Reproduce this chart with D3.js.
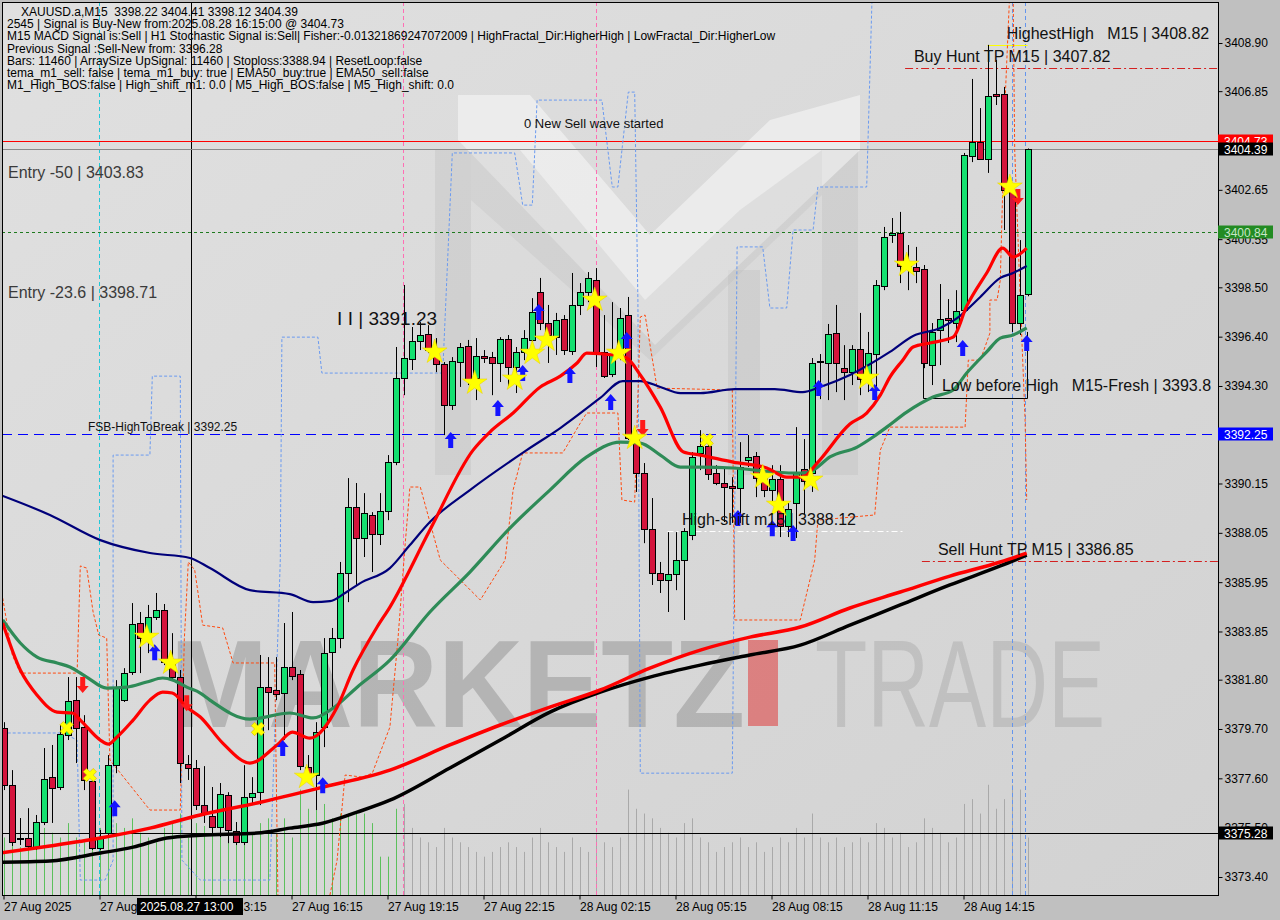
<!DOCTYPE html>
<html><head><meta charset="utf-8">
<script src="https://cdn.jsdelivr.net/npm/d3@7"></script>
<style>
html,body{margin:0;padding:0;background:#c0c0c0;}
svg{display:block;font-family:"Liberation Sans",Arial,sans-serif;}
</style></head><body>
<svg id="c" width="1280" height="920"></svg>
<script>
// ---------------- DATA ----------------
const opens = [3379.74,3377.31,3375.06,3375.06,3374.67,3375.74,3377.65,3377.23,3379.44,3380.93,
3379.78,3377.48,3374.63,3375.27,3378.16,3380.93,3382.12,3384.21,3383.78,3384.46,
3384.76,3382.55,3381.91,3378.21,3378.04,3376.46,3375.99,3375.52,3376.89,3375.35,
3374.89,3376.80,3377.01,3381.48,3381.36,3381.23,3382.34,3382.04,3378.08,3377.74,
3379.78,3382.97,3383.57,3386.34,3389.15,3387.83,3388.81,3388.00,3388.98,3391.06,
3394.64,3395.45,3396.21,3396.51,3395.58,3395.23,3393.49,3395.32,3396.00,3394.64,
3395.58,3395.53,3395.28,3396.30,3395.11,3395.75,3396.26,3398.30,3396.98,3396.38,
3397.15,3395.79,3397.75,3398.30,3398.81,3395.75,3394.81,3395.58,3397.32,3392.08,
3390.59,3388.21,3386.34,3386.04,3386.29,3386.89,3387.96,3391.45,3391.74,3390.59,
3390.17,3390.04,3389.96,3391.15,3391.32,3390.42,3389.87,3390.34,3388.34,3389.32,
3390.76,3390.59,3395.34,3395.28,3396.55,3395.06,3394.89,3395.87,3394.77,3395.66,
3398.56,3400.73,3400.81,3399.41,3399.36,3399.28,3395.19,3396.68,3397.19,3396.98,
3397.53,3404.09,3404.69,3403.96,3406.73,3406.73,3402.64,3396.98,3398.22];
const highs = [3379.99,3377.95,3375.91,3376.33,3376.04,3378.89,3379.02,3379.87,3381.91,3381.91,
3380.29,3377.95,3375.40,3378.59,3381.78,3382.29,3385.06,3384.68,3384.98,3385.49,
3385.02,3383.78,3382.21,3378.59,3378.38,3378.12,3377.23,3377.40,3377.01,3375.74,
3378.16,3377.65,3382.85,3382.76,3382.76,3384.21,3384.68,3382.21,3378.59,3379.99,
3383.57,3384.00,3386.81,3390.38,3390.17,3389.74,3388.93,3389.74,3391.36,3395.96,
3398.60,3396.81,3397.02,3396.89,3396.34,3395.32,3395.53,3396.13,3396.26,3396.34,
3395.83,3395.75,3396.38,3396.47,3395.96,3396.68,3398.04,3398.90,3397.75,3397.41,
3397.32,3399.11,3398.68,3399.15,3399.32,3397.32,3397.87,3397.62,3398.09,3392.42,
3391.02,3389.53,3386.81,3388.08,3388.08,3388.25,3391.49,3392.42,3392.13,3390.93,
3390.85,3390.42,3391.91,3392.21,3391.49,3390.72,3390.93,3390.93,3389.32,3392.55,
3392.04,3395.49,3395.66,3396.94,3397.75,3396.04,3396.04,3397.41,3396.60,3398.81,
3401.07,3401.45,3401.71,3400.30,3400.22,3399.45,3396.98,3398.64,3398.00,3398.38,
3404.22,3407.37,3406.13,3408.82,3408.18,3407.03,3402.85,3400.51,3404.41];
const lows = [3377.10,3374.72,3374.76,3374.63,3374.55,3375.61,3375.70,3377.10,3379.23,3378.25,
3377.10,3374.55,3374.55,3375.06,3377.82,3380.85,3382.00,3382.08,3382.93,3384.34,
3382.42,3381.78,3377.40,3377.53,3376.25,3375.70,3375.27,3375.10,3374.84,3374.76,
3374.76,3376.46,3376.46,3379.65,3380.93,3379.23,3381.78,3377.95,3377.53,3376.25,
3378.93,3380.63,3383.14,3385.10,3385.83,3387.02,3386.38,3387.53,3388.59,3390.93,
3393.91,3394.98,3395.83,3395.70,3394.89,3392.21,3393.28,3394.26,3394.34,3393.70,
3395.28,3393.91,3394.47,3394.26,3394.00,3395.40,3395.62,3396.68,3395.28,3395.62,
3395.62,3395.62,3397.32,3397.87,3395.11,3394.64,3394.68,3395.40,3392.00,3389.79,
3387.61,3385.83,3385.49,3384.68,3385.61,3384.34,3387.74,3390.72,3390.30,3390.08,
3388.51,3388.47,3388.47,3390.85,3389.57,3389.57,3389.32,3387.87,3387.87,3387.83,
3388.81,3389.79,3393.74,3393.70,3394.04,3393.70,3394.34,3393.91,3394.04,3394.21,
3398.38,3400.39,3398.68,3398.38,3398.68,3395.06,3394.34,3395.19,3396.13,3396.17,
3397.41,3403.83,3403.92,3403.37,3406.26,3400.94,3396.60,3396.47,3398.12];
const closes = [3377.31,3374.89,3375.04,3374.72,3375.74,3377.57,3377.19,3379.48,3380.89,3379.74,
3377.53,3374.63,3375.06,3378.16,3381.48,3382.08,3384.17,3383.57,3384.46,3384.76,
3382.55,3381.91,3378.25,3378.04,3376.46,3376.12,3375.52,3376.93,3375.40,3374.89,
3376.80,3376.97,3381.48,3381.27,3381.19,3382.34,3381.95,3378.12,3377.65,3379.57,
3382.93,3383.57,3386.34,3389.15,3387.83,3388.89,3388.00,3388.98,3391.06,3394.64,
3395.49,3396.21,3396.47,3395.83,3395.23,3393.49,3395.36,3395.96,3394.60,3395.58,
3395.51,3395.28,3396.30,3395.11,3395.75,3396.34,3397.45,3396.98,3396.47,3397.11,
3395.83,3397.75,3398.30,3398.90,3395.75,3394.72,3395.62,3397.19,3392.08,3390.59,
3388.21,3386.34,3386.04,3386.29,3386.89,3388.13,3391.28,3391.74,3390.55,3390.17,
3390.00,3389.96,3390.85,3391.28,3390.38,3389.87,3390.34,3388.34,3389.06,3390.64,
3390.25,3395.28,3395.36,3396.51,3395.28,3394.89,3395.87,3394.60,3395.70,3398.60,
3400.64,3400.81,3399.41,3399.58,3399.19,3395.28,3396.60,3397.15,3397.11,3397.49,
3404.13,3404.69,3403.96,3406.64,3406.64,3402.64,3396.98,3398.17,3404.39];
const volumes = [60,55,50,55,60,70,65,60,75,60,55,80,
70,85,75,70,80,65,60,55,70,75,85,60,
75,72,65,72,82,70,70,65,75,80,65,80,
60,110,90,90,95,80,85,85,85,85,75,40,
40,90,95,70,60,55,50,70,60,55,50,45,
40,45,50,55,50,45,60,70,55,50,45,60,
50,45,65,55,50,60,110,90,85,80,70,65,
60,75,80,60,55,45,50,55,60,50,55,45,
50,60,55,70,60,85,60,55,60,50,55,60,
55,75,70,60,65,50,55,80,70,65,55,60,
95,100,85,115,90,100,115,110,60];

// moving averages: [bar index, price]
const navyMA = [[-0.4,3389.66],[5.8,3388.81],[12.1,3387.74],[18.3,3387.19],[23.3,3386.98],[25.8,3386.55],[30.8,3385.61],[35.8,3385.44],[38.7,3385.10],[40.8,3385.14],[42.7,3385.49],[44.6,3385.91],[48.3,3386.55],[50.8,3387.53],[53.3,3388.51],[58.3,3389.87],[65.4,3391.57],[69.6,3392.51],[74.6,3393.79],[77.4,3394.51],[79.6,3394.51],[82.1,3394.26],[84.6,3394.00],[87.1,3394.00],[91.4,3394.17],[96.4,3394.17],[99.9,3394.04],[102.1,3394.26],[105.8,3394.77],[110.8,3395.75],[113.7,3396.43],[117.1,3396.77],[119.2,3397.19],[122.1,3398.09],[124.6,3398.90],[126.2,3399.11],[127.9,3399.41]];
const fastRedMA = [[-0.1,3384.21],[2.1,3382.21],[4.2,3381.14],[6.7,3380.42],[8.6,3380.38],[9.6,3380.08],[12.1,3379.23],[13.1,3379.06],[14.2,3379.36],[16.2,3380.08],[18.3,3380.93],[19.9,3381.27],[21.1,3381.23],[22.9,3380.63],[24.6,3380.21],[27.4,3379.10],[30.8,3378.25],[34.2,3379.02],[36.1,3379.57],[38.3,3379.31],[41.7,3380.63],[43.7,3382.21],[46.7,3384.04],[48.3,3384.89],[53.3,3388.17],[58.7,3391.57],[60.8,3392.34],[63.7,3393.15],[67.1,3394.26],[69.6,3394.72],[71.7,3395.28],[72.9,3395.70],[76.2,3395.62],[77.9,3395.49],[79.6,3394.77],[82.1,3393.40],[85.0,3391.49],[87.1,3391.36],[91.2,3391.06],[95.4,3390.81],[97.9,3390.42],[99.9,3390.42],[101.7,3391.02],[105.8,3392.68],[107.9,3393.15],[109.6,3393.91],[110.8,3394.68],[112.4,3395.40],[113.7,3395.96],[115.8,3396.13],[118.7,3396.38],[120.4,3397.70],[122.9,3399.11],[124.9,3400.17],[126.2,3399.79],[127.9,3400.17]];
const greenMA = [[-0.1,3384.34],[2.1,3383.36],[4.2,3382.76],[6.7,3382.51],[8.3,3382.34],[10.4,3381.91],[12.9,3381.44],[15.4,3381.48],[17.9,3381.70],[19.9,3381.87],[21.2,3381.78],[22.9,3381.48],[24.6,3381.23],[25.8,3380.93],[30.8,3380.12],[35.8,3380.38],[38.7,3380.17],[41.2,3380.59],[44.2,3381.48],[48.3,3382.63],[53.3,3384.68],[58.3,3386.38],[63.3,3388.25],[68.3,3389.87],[72.9,3391.28],[77.1,3391.91],[79.6,3391.87],[82.1,3391.36],[84.6,3390.85],[87.1,3390.85],[91.2,3390.81],[96.2,3390.64],[99.6,3390.59],[101.2,3390.72],[103.3,3391.28],[106.7,3391.70],[108.7,3392.13],[110.4,3392.55],[112.9,3393.19],[116.2,3393.83],[118.7,3394.13],[120.4,3394.85],[122.9,3395.75],[124.6,3396.34],[126.2,3396.47],[127.9,3396.77]];
const slowRedMA = [[-0.4,3374.42],[5.8,3374.72],[12.1,3375.06],[18.3,3375.48],[24.6,3376.04],[31.7,3376.55],[40.0,3377.23],[48.3,3377.95],[55.8,3379.02],[62.1,3379.87],[68.3,3380.63],[74.6,3381.36],[80.8,3382.29],[87.1,3383.06],[93.3,3383.61],[99.6,3384.04],[105.8,3384.85],[112.1,3385.53],[118.3,3386.21],[124.6,3386.81],[127.9,3387.19]];
const blackMA = [[-0.4,3374.03],[5.8,3374.08],[12.1,3374.42],[16.2,3374.67],[20.4,3375.06],[24.6,3375.18],[31.7,3375.27],[35.8,3375.48],[40.0,3375.70],[44.2,3376.16],[48.3,3376.67],[55.8,3378.04],[62.1,3379.23],[68.3,3380.42],[74.6,3381.27],[80.8,3381.91],[87.1,3382.42],[93.3,3382.85],[99.6,3383.27],[105.8,3384.12],[112.1,3384.98],[118.3,3385.83],[124.6,3386.64],[127.9,3387.10]];

// stepped channel indicator lines: [bar index, price]
const blueStep = [[-0.1,3379.53],[7.4,3379.53],[9.2,3379.23],[9.6,3373.27],[12.7,3373.27],[13.7,3374.12],[13.7,3391.36],[18.3,3391.36],[18.6,3394.72],[22.1,3394.72],[22.3,3374.12],[24.6,3373.27],[33.3,3373.27],[34.6,3386.89],[34.8,3396.38],[39.3,3396.38],[39.8,3394.85],[54.9,3394.85],[56.1,3404.22],[63.9,3404.22],[64.9,3402.00],[66.1,3402.00],[66.7,3406.47],[74.8,3406.47],[76.1,3402.77],[76.8,3402.77],[78.1,3406.81],[78.9,3406.81],[79.3,3397.96],[79.6,3377.82],[91.1,3377.82],[91.7,3400.22],[94.9,3400.22],[95.8,3397.62],[97.9,3397.62],[98.7,3400.94],[101.2,3400.94],[101.8,3402.77],[107.9,3402.77],[108.6,3411.2]];
const orangeStep1 = [[-0.1,3385.27],[1.1,3382.85],[2.1,3382.08],[9.2,3382.08],[9.6,3386.64],[10.4,3386.55],[11.2,3384.68],[11.9,3383.70],[12.9,3383.57],[13.3,3378.38],[18.3,3376.25],[22.1,3376.25],[22.6,3383.49],[23.1,3386.81],[23.9,3386.47],[24.9,3384.12],[27.4,3384.00],[28.7,3382.51],[33.9,3382.51],[34.3,3372.63]];
const orangeStep2 = [[40.8,3372.63],[41.7,3374.12],[42.7,3377.74],[44.9,3377.65],[46.1,3377.82],[48.3,3379.78],[49.3,3383.49],[50.2,3387.53],[50.8,3390.00],[52.1,3390.00],[54.6,3386.89],[59.6,3385.19],[62.7,3386.89],[63.7,3389.87],[64.9,3391.45],[69.9,3391.45],[72.1,3392.72],[72.9,3393.15],[76.8,3393.15],[77.3,3389.45],[78.9,3389.36],[79.6,3397.24],[80.2,3397.32],[81.7,3394.21],[91.1,3394.13],[91.4,3384.34],[99.6,3384.34],[101.4,3386.89],[101.8,3388.59],[108.9,3388.81],[109.6,3391.57],[110.8,3392.55],[120.2,3392.55],[120.6,3395.40],[122.1,3395.40],[123.3,3396.55],[123.3,3397.96],[124.2,3397.96],[124.6,3398.81],[125.2,3406.47],[125.8,3411.2]];
const orangeStep3 = [[126.2,3411.2],[126.4,3404.35],[127.1,3397.96],[127.7,3392.85],[127.9,3389.45]];

// signal markers: [bar index, price]
const buyArrows = [[13.9,3376.33],[18.9,3382.97],[34.9,3378.89],[39.9,3377.31],[55.9,3392.00],[61.8,3393.36],[64.9,3394.85],[66.9,3397.45],[70.8,3394.77],[75.9,3393.62],[77.9,3396.26],[91.8,3388.68],[96.1,3388.25],[98.7,3388.04],[101.9,3394.21],[108.9,3394.04],[119.9,3395.92],[127.9,3396.13]];
const sellArrows = [[9.9,3381.57],[22.9,3380.80],[79.9,3392.51],[126.8,3402.34]];
const stars = [[17.9,3383.61],[20.9,3382.51],[37.9,3377.65],[53.9,3395.75],[58.9,3394.43],[63.9,3394.60],[66.1,3395.70],[67.9,3396.26],[73.9,3397.96],[76.9,3395.70],[78.9,3392.08],[94.9,3390.42],[96.9,3389.23],[100.9,3390.30],[107.9,3394.64],[112.9,3399.45],[125.8,3402.77]];
const crosses = [[7.9,3379.74],[10.8,3377.74],[31.8,3379.70],[87.9,3392.00]];

// axes
const priceTicks = [3408.90,3406.85,3404.75,3402.65,3400.55,3398.50,3396.40,3394.30,3392.20,3390.15,3388.05,3385.95,3383.85,3381.80,3379.70,3377.60,3375.50,3373.40];
const timeTickIdx = [0,12,24,36,48,60,72,84,96,108,120];
const timeTickLabels = ["27 Aug 2025","27 Aug 10:15","27 Aug 13:15","27 Aug 16:15","27 Aug 19:15","27 Aug 22:15","28 Aug 02:15","28 Aug 05:15","28 Aug 08:15","28 Aug 11:15","28 Aug 14:15"];

// price levels
const levelPrices = [3404.73,3404.39,3400.84,3392.25,3375.28,3407.82,3386.85,3388.12,3408.82];
const levelColors = ["#ff0000","#8a8a8a","#1e7a1e","#0000ff","#000000","#d42020","#d42020","#ffffff","#ffff00"];
const levelDash = ["","","3,3","10,6","","8,3,2,3","8,3,2,3","6,3,2,3",""];
const levelStart = [0,0,0,0,0,112.7,114.8,83.0,123.0];
const levelEnd = [null,null,null,null,null,null,null,112.4,128];

const vLineIdx = [11.95,49.95,74.0,126.06,127.69,23.44];
const vLineColors = ["#20c8d8","#ff6eb4","#ff6eb4","#6495ed","#6495ed","#000000"];
const vLineDash = ["4,3","4,3","4,3","4,3","4,3",""];

const axisBoxPrices = [3404.73,3404.39,3400.84,3392.25,3375.28];
const axisBoxFill = ["#ff0000","#000000","#228b22","#0000ff","#000000"];
const axisBoxText = ["#ffffff","#ffffff","#c8e6c8","#ffffff","#ffffff"];

const labelTexts = ["Entry -50 | 3403.83","Entry -23.6 | 3398.71","I I | 3391.23","0 New Sell wave started","FSB-HighToBreak | 3392.25","HighestHigh   M15 | 3408.82","Buy Hunt TP M15 | 3407.82","Low before High   M15-Fresh | 3393.8","High-shift m15 | 3388.12","Sell Hunt TP M15 | 3386.85"];
const labelIdx = [0.56,0.56,41.7,65.06,10.56,125.4,113.8,117.3,84.8,116.8];
const labelPrice = [3403.83,3398.71,3396.89,3405.28,3392.25,3408.82,3407.82,3393.8,3388.12,3386.85];
const labelDy = [16,16,0,0,-3,-6,-6,-7,-6,-6];
const labelSize = [16,16,19,13,12,16,16,16,16,16];
const labelColor = ["#3a3a3a","#3a3a3a","#111","#111","#111","#111","#111","#111","#111","#111"];

const infoLines = [
"XAUUSD.a,M15  3398.22 3404.41 3398.12 3404.39",
"2545 | Signal is Buy-New from:2025.08.28 16:15:00 @ 3404.73",
"M15 MACD Signal is:Sell | H1 Stochastic Signal is:Sell| Fisher:-0.01321869247072009 | HighFractal_Dir:HigherHigh | LowFractal_Dir:HigherLow",
"Previous Signal :Sell-New from: 3396.28",
"Bars: 11460 | ArraySize UpSignal: 11460 | Stoploss:3388.94 | ResetLoop:false",
"tema_m1_sell: false | tema_m1_buy: true | EMA50_buy:true | EMA50_sell:false",
"M1_High_BOS:false | High_shift_m1: 0.0 | M5_High_BOS:false | M5_High_shift: 0.0"];

// ---------------- DRAW ----------------
const PL=2, PT=2, PR=1218, PB=895;
const svg = d3.select('#c');
const x = d3.scaleLinear().domain([0,128]).range([3.5,1027.5]);
const y = d3.scaleLinear().domain([3373.40,3408.90]).range([877,43]);
const vol = d3.scaleLinear().domain([0,120]).range([0,115]);

svg.append('rect').attr('width',1280).attr('height',920).attr('fill','#c0c0c0');
const defs = svg.append('defs');
const grad = defs.append('linearGradient').attr('id','bg').attr('x1',0).attr('y1',0).attr('x2',1).attr('y2',1);
grad.append('stop').attr('offset','0%').attr('stop-color','#e0e0e0');
grad.append('stop').attr('offset','100%').attr('stop-color','#d2d2d2');
defs.append('clipPath').attr('id','clip').append('rect').attr('x',PL).attr('y',PT).attr('width',PR-PL).attr('height',PB-PT);

const plot = svg.append('g').attr('clip-path','url(#clip)');
plot.append('rect').attr('x',PL).attr('y',PT).attr('width',PR-PL).attr('height',PB-PT).attr('fill','url(#bg)');

// watermark logo (decorative)
const wm = plot.append('g');
wm.append('rect').attr('x',435).attr('y',150).attr('width',36).attr('height',325).attr('fill','#bdbdbd').attr('opacity',0.35);
wm.append('rect').attr('x',728).attr('y',270).attr('width',32).attr('height',205).attr('fill','#bdbdbd').attr('opacity',0.35);
wm.append('rect').attr('x',822).attr('y',150).attr('width',36).attr('height',325).attr('fill','#bdbdbd').attr('opacity',0.35);
wm.append('polygon').attr('points','458,95 530,95 650,235 770,120 860,95 860,150 655,345 458,140').attr('fill','#ffffff').attr('opacity',0.45);
wm.append('polygon').attr('points','471,150 520,150 645,300 740,210 822,150 822,195 650,360 471,200').attr('fill','#b8b8b8').attr('opacity',0.25);
wm.append('text').attr('x',170).attr('y',727).attr('font-size',124).attr('font-weight','bold')
  .attr('textLength',575).attr('lengthAdjust','spacingAndGlyphs').attr('fill','#8a8a8a').attr('opacity',0.45).text('MARKETZ');
wm.append('rect').attr('x',748).attr('y',640).attr('width',30).attr('height',86).attr('fill','#e03a3a').attr('opacity',0.55);
wm.append('text').attr('x',815).attr('y',727).attr('font-size',124)
  .attr('textLength',290).attr('lengthAdjust','spacingAndGlyphs').attr('fill','#a8a8a8').attr('opacity',0.45).text('TRADE');

// volumes
plot.append('g').selectAll('line').data(volumes).join('line')
  .attr('x1',(d,i)=>Math.round(x(i))+0.5).attr('x2',(d,i)=>Math.round(x(i))+0.5)
  .attr('y1',PB).attr('y2',d=>PB-vol(d))
  .attr('stroke',(d,i)=> i<50 ? '#5cc05c' : '#a9a9a9').attr('stroke-width',1);

// vertical event lines
plot.append('g').selectAll('line').data(vLineIdx).join('line')
  .attr('x1',d=>Math.round(x(d))+0.5).attr('x2',d=>Math.round(x(d))+0.5)
  .attr('y1',PT).attr('y2',PB)
  .attr('stroke',(d,i)=>vLineColors[i]).attr('stroke-dasharray',(d,i)=>vLineDash[i]||null).attr('stroke-width',1);

// horizontal levels
plot.append('g').selectAll('line').data(levelPrices).join('line')
  .attr('x1',(d,i)=> levelStart[i]===0 ? PL : x(levelStart[i]))
  .attr('x2',(d,i)=> levelEnd[i]==null ? PR : x(levelEnd[i]))
  .attr('y1',d=>Math.round(y(d))+0.5).attr('y2',d=>Math.round(y(d))+0.5)
  .attr('stroke',(d,i)=>levelColors[i]).attr('stroke-dasharray',(d,i)=>levelDash[i]||null).attr('stroke-width',1);

// low before high box
const boxLow = 3393.8;
plot.append('path')
  .attr('d',`M${x(115)},${y(3395.28)} V${Math.round(y(boxLow))+0.5} H${x(128)} V${y(3396.6)}`)
  .attr('fill','none').attr('stroke','#000').attr('stroke-width',1);

// stepped lines
const lineLin = d3.line().x(d=>x(d[0])).y(d=>y(d[1]));
plot.append('path').attr('d',lineLin(blueStep)).attr('fill','none').attr('stroke','#6a9af0').attr('stroke-width',1).attr('stroke-dasharray','3,2');
[orangeStep1,orangeStep2,orangeStep3].forEach(s=>{
  plot.append('path').attr('d',lineLin(s)).attr('fill','none').attr('stroke','#ff4a10').attr('stroke-width',1).attr('stroke-dasharray','3,2');
});

// candles
const cg = plot.append('g');
const idx = d3.range(opens.length);
cg.selectAll('line.w').data(idx).join('line')
  .attr('x1',i=>Math.round(x(i))+0.5).attr('x2',i=>Math.round(x(i))+0.5)
  .attr('y1',i=>y(highs[i])).attr('y2',i=>y(lows[i])).attr('stroke','#000').attr('stroke-width',1);
cg.selectAll('rect.b').data(idx).join('rect')
  .attr('x',i=>Math.round(x(i))-2.5).attr('width',6)
  .attr('y',i=>Math.round(y(Math.max(opens[i],closes[i])))+0.5)
  .attr('height',i=>Math.max(1,Math.round(Math.abs(y(opens[i])-y(closes[i])))))
  .attr('fill',i=> closes[i]>=opens[i] ? '#14e070' : '#d4143c')
  .attr('stroke','#000').attr('stroke-width',1);

// moving averages
const smooth = d3.line().x(d=>x(d[0])).y(d=>y(d[1])).curve(d3.curveMonotoneX);
const mas = [[blackMA,'#000000',3.5],[slowRedMA,'#ff0000',3.5],[navyMA,'#00007a',2.2],[greenMA,'#2e8b57',3.2],[fastRedMA,'#ff0000',3.2]];
mas.forEach(m=>{
  plot.append('path').attr('d',smooth(m[0])).attr('fill','none').attr('stroke',m[1]).attr('stroke-width',m[2]).attr('stroke-linejoin','round');
});

// markers
const mk = plot.append('g');
mk.selectAll('path.up').data(buyArrows).join('path')
  .attr('transform',d=>`translate(${x(d[0])},${y(d[1])})`)
  .attr('d','M0,-8 L6,-1 L2.5,-1 L2.5,8 L-2.5,8 L-2.5,-1 L-6,-1 Z').attr('fill','#1414ff');
mk.selectAll('path.dn').data(sellArrows).join('path')
  .attr('transform',d=>`translate(${x(d[0])},${y(d[1])})`)
  .attr('d','M0,8 L6,1 L2.5,1 L2.5,-8 L-2.5,-8 L-2.5,1 L-6,1 Z').attr('fill','#ff1a1a');
mk.selectAll('path.st').data(stars).join('path')
  .attr('transform',d=>`translate(${x(d[0])},${y(d[1])})`)
  .attr('d',d3.symbol().type(d3.symbolStar).size(190)()).attr('fill','#ffff00').attr('stroke','#e8d000').attr('stroke-width',0.5);
mk.selectAll('path.cr').data(crosses).join('path')
  .attr('transform',d=>`translate(${x(d[0])},${y(d[1])}) rotate(45)`)
  .attr('d',d3.symbol().type(d3.symbolCross).size(110)()).attr('fill','#ffff00').attr('stroke','#d8b800').attr('stroke-width',0.6);

// chart labels
plot.append('g').selectAll('text').data(labelTexts).join('text')
  .attr('x',(d,i)=>x(labelIdx[i])).attr('y',(d,i)=>y(labelPrice[i])+labelDy[i])
  .attr('font-size',(d,i)=>labelSize[i]).attr('fill',(d,i)=>labelColor[i])
  .style('white-space','pre').text(d=>d);

// info text
svg.append('g').selectAll('text').data(infoLines).join('text')
  .attr('x',(d,i)=> i===0 ? 21 : 7).attr('y',(d,i)=>16+i*12.2)
  .attr('font-size',12).attr('fill','#000').style('white-space','pre').text(d=>d);

// frame
svg.append('rect').attr('x',PL+0.5).attr('y',PT+0.5).attr('width',PR-PL).attr('height',PB-PT)
  .attr('fill','none').attr('stroke','#000').attr('stroke-width',1);

// right axis
const ra = svg.append('g').attr('transform',`translate(${PR+0.5},0)`)
  .call(d3.axisRight(y).tickValues(priceTicks).tickSize(4).tickPadding(2).tickFormat(d=>d.toFixed(2)));
ra.select('.domain').remove();
ra.selectAll('text').attr('font-size',12).attr('font-family','"Liberation Sans",Arial,sans-serif').attr('fill','#000');
ra.selectAll('line').attr('stroke','#000');

// axis value boxes
const boxes = svg.append('g');
axisBoxPrices.forEach((p,i)=>{
  const yy = Math.round(y(p));
  boxes.append('rect').attr('x',PR).attr('y',yy-6.5).attr('width',55).attr('height',13).attr('fill',axisBoxFill[i]);
  boxes.append('text').attr('x',PR+6).attr('y',yy+4.5).attr('font-size',12).attr('fill',axisBoxText[i]).text(p.toFixed(2));
});

// bottom axis
const ba = svg.append('g').attr('transform',`translate(0,${PB+0.5})`)
  .call(d3.axisBottom(x).tickValues(timeTickIdx).tickSize(4).tickPadding(3).tickFormat((d,k)=>timeTickLabels[k]));
ba.select('.domain').remove();
ba.selectAll('text').attr('text-anchor','start').attr('font-size',12).attr('font-family','"Liberation Sans",Arial,sans-serif').attr('fill','#000');
ba.selectAll('line').attr('stroke','#000');

// crosshair time box
const ct = svg.append('g');
ct.append('rect').attr('x',137).attr('y',898).attr('width',106).attr('height',17).attr('fill','#000');
ct.append('text').attr('x',140).attr('y',911).attr('font-size',12).attr('fill','#fff').text('2025.08.27 13:00');
</script></body></html>
